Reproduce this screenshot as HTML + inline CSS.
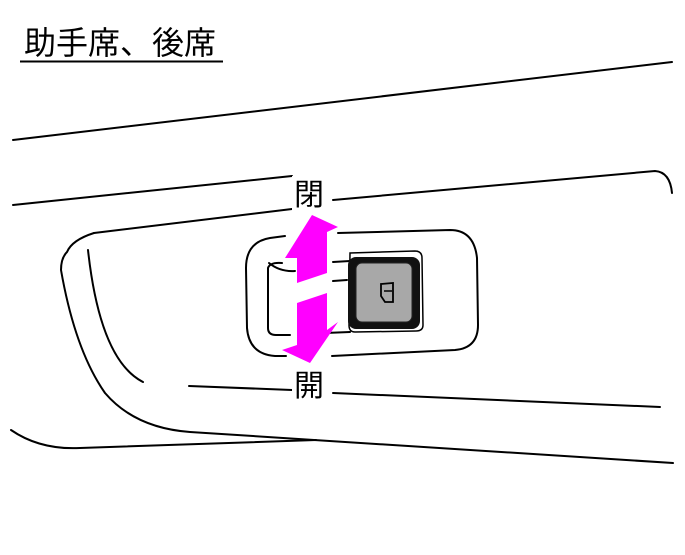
<!DOCTYPE html>
<html><head><meta charset="utf-8"><style>
html,body{margin:0;padding:0;background:#fff;}
svg{display:block;}
text{font-family:"Liberation Sans","Noto Sans CJK JP",sans-serif;}
</style></head><body>
<svg width="685" height="555" viewBox="0 0 685 555" xmlns="http://www.w3.org/2000/svg">
<rect width="685" height="555" fill="#fff"/>
<text x="24" y="54" font-size="32" fill="#000">助手席、後席</text>
<line x1="20" y1="61.5" x2="223" y2="61.5" stroke="#000" stroke-width="2"/>
<g fill="none" stroke="#000" stroke-width="2" stroke-linecap="round" stroke-linejoin="round">
<line x1="13" y1="140" x2="672" y2="62"/>
<line x1="13" y1="205" x2="292" y2="176"/>
<line x1="13" y1="205" x2="292" y2="176" stroke="none"/>
<path d="M94,233 L292,209"/>
<path d="M333,200 L655,171 Q670,172 672,193"/>
<path d="M94,233 Q72,240 67,252 Q61,258 61,270 Q75,350 105,393 Q135,428 190,432 L673,463"/>
<path d="M11,430 Q40,450 80,448 L316,440"/>
<path d="M88,250 Q100,360 143,382"/>
<path d="M189,386 L292,390"/>
<path d="M333,393 L660,407"/>
<path d="M285,236 L270,238 Q246,242 246,268 L247,328 Q249,354 275,356 L286,356"/>
<path d="M332,356 L455,350 Q478,348 478,325 L477,258 Q474,230 450,230 L338,233"/>
<path d="M282,263 Q270,262 268,268 L268,328 Q268,335 276,335 L290,335"/>
<path d="M333,262 L350,261"/>
<path d="M333,281 L347,280"/>
<path d="M325,333 L350,332"/>
<path d="M269,263 Q280,272 295,271"/>
</g>
<path d="M350,253 L415,251 Q422,251 422,258 L423,325 Q423,331 416,331 L355,332 Q349,332 349,325 Z" fill="none" stroke="#000" stroke-width="1.5"/>
<rect x="348" y="257" width="72" height="72" rx="8" fill="#111"/>
<rect x="356" y="263" width="56" height="59" rx="6" fill="#a8a8a8" stroke="#222" stroke-width="1"/>
<path d="M381,284 L393,283 L393,302 L385,302 L381,296 Z" fill="none" stroke="#000" stroke-width="1.8"/>
<line x1="384" y1="291" x2="392" y2="291" stroke="#000" stroke-width="1.5"/>
<polygon points="312,215 338,227 327,232 327,273 297,283 297,258 285,258" fill="#ff00ff"/>
<polygon points="297,303 327,293 327,330 338,322 310,363 282,350 297,345" fill="#ff00ff"/>
<rect x="292" y="176" width="40" height="34" fill="#fff"/>
<text x="294" y="205" font-size="30" fill="#000">閉</text>
<rect x="292" y="367" width="40" height="34" fill="#fff"/>
<text x="294" y="396" font-size="30" fill="#000">開</text>
</svg>
</body></html>
